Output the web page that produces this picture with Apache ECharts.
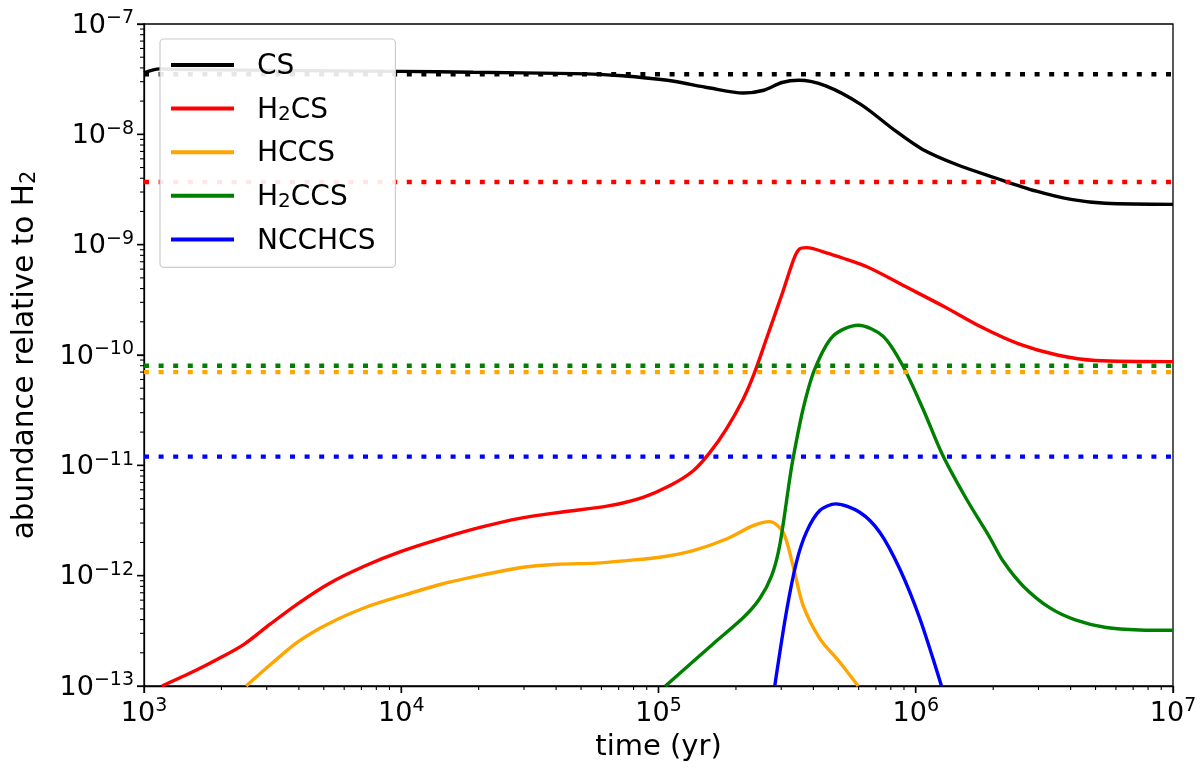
<!DOCTYPE html>
<html><head><meta charset="utf-8">
<script src="https://cdn.jsdelivr.net/npm/echarts@6/dist/echarts.min.js"></script>
<style>html,body{margin:0;padding:0;background:#fff}#c{width:1200px;height:772px}</style>
</head><body><div id="c"></div>
<script>
// ---------- data ----------
const seriesNames  = ['CS', 'H2CS', 'HCCS', 'H2CCS', 'NCCHCS'];
const seriesColors = ['#000000', '#ff0000', '#ffa500', '#008000', '#0000ff'];

const csTime  = [1000, 1148, 1259, 3162, 10000, 19050, 46770, 72440, 100000, 114800, 158500, 213800, 257000, 302000, 350800, 446700, 611000, 831800, 1064000, 1449000, 2030000, 2944000, 4010000, 5460000, 10000000];
const csAbund = [3.61e-8, 3.92e-8, 3.89e-8, 3.80e-8, 3.72e-8, 3.65e-8, 3.55e-8, 3.40e-8, 3.16e-8, 3.03e-8, 2.63e-8, 2.37e-8, 2.51e-8, 2.95e-8, 3.09e-8, 2.75e-8, 1.87e-8, 1.08e-8, 7.3e-9, 5.3e-9, 4.04e-9, 3.05e-9, 2.57e-9, 2.37e-9, 2.32e-9];

const h2csTime  = [1175, 1585, 1995, 2455, 3090, 3981, 5248, 7244, 10000, 14450, 20420, 28840, 41690, 64570, 87100, 110900, 136500, 158500, 183700, 213300, 234400, 263000, 302000, 335700, 353200, 375800, 457100, 645700, 912000, 1288000, 1799000, 2512000, 3548000, 5012000, 10000000];
const h2csAbund = [1.0e-13, 1.38e-13, 1.82e-13, 2.40e-13, 3.63e-13, 5.62e-13, 8.51e-13, 1.23e-12, 1.66e-12, 2.19e-12, 2.75e-12, 3.31e-12, 3.76e-12, 4.31e-12, 5.13e-12, 6.55e-12, 8.93e-12, 1.31e-11, 2.14e-11, 3.98e-11, 6.6e-11, 1.41e-10, 3.55e-10, 7.41e-10, 9.12e-10, 9.40e-10, 8.32e-10, 6.31e-10, 4.17e-10, 2.75e-10, 1.79e-10, 1.26e-10, 1.0e-10, 8.91e-11, 8.71e-11];

const hccsTime  = [2495, 3119, 3963, 5212, 7328, 10000, 14550, 20510, 28840, 40640, 57280, 75160, 101200, 136500, 183700, 233300, 270400, 304800, 333400, 364800, 423600, 505800, 597000];
const hccsAbund = [1.0e-13, 1.58e-13, 2.51e-13, 3.67e-13, 5.2e-13, 6.55e-13, 8.45e-13, 1.01e-12, 1.18e-12, 1.27e-12, 1.30e-12, 1.37e-12, 1.47e-12, 1.69e-12, 2.15e-12, 2.84e-12, 3.09e-12, 2.48e-12, 1.23e-12, 5.37e-13, 2.69e-13, 1.65e-13, 1.0e-13];

const h2ccsTime  = [106400, 163300, 214800, 247200, 275400, 295800, 323600, 333400, 364800, 404600, 476400, 597000, 746400, 891300, 1067000, 1276000, 1574000, 1936000, 2188000, 2630000, 3311000, 4169000, 5495000, 7413000, 10000000];
const h2ccsAbund = [1.0e-13, 2.42e-13, 4.22e-13, 6.17e-13, 1.0e-12, 1.87e-12, 7.52e-12, 1.15e-11, 3.24e-11, 7.41e-11, 1.48e-10, 1.86e-10, 1.48e-10, 7.94e-11, 3.24e-11, 1.22e-11, 4.95e-12, 2.24e-12, 1.35e-12, 7.94e-13, 5.13e-13, 3.98e-13, 3.39e-13, 3.22e-13, 3.2e-13];

const ncchcsTime  = [283100, 314100, 343600, 375800, 423600, 488700, 605300, 724400, 867000, 1038000, 1259000];
const ncchcsAbund = [1.0e-13, 4.68e-13, 1.32e-12, 2.48e-12, 3.89e-12, 4.47e-12, 3.76e-12, 2.48e-12, 1.15e-12, 4.07e-13, 1.0e-13];

// observed abundances (dotted horizontal lines), same order as seriesNames
const observedAbund = [3.5e-8, 3.7e-9, 7e-11, 8e-11, 1.2e-11];

// axes
const xMin = 1e3, xMax = 1e7, yMin = 1e-13, yMax = 1e-7;
const xMajorTicks = [1e3, 1e4, 1e5, 1e6, 1e7];
const yMajorTicks = [1e-13, 1e-12, 1e-11, 1e-10, 1e-9, 1e-8, 1e-7];
const minorMultipliers = [2, 3, 4, 5, 6, 7, 8, 9];

// ---------- chart ----------
const FONT = 'DejaVu Sans';
const curves = [
  [csTime, csAbund], [h2csTime, h2csAbund], [hccsTime, hccsAbund],
  [h2ccsTime, h2ccsAbund], [ncchcsTime, ncchcsAbund]
];
const minorOf = majors => majors.slice(0, -1).flatMap(m => minorMultipliers.map(k => +(m * k).toPrecision(3)));
const xMinorTicks = minorOf(xMajorTicks);
const yMinorTicks = minorOf(yMajorTicks);

function pow10Label(v) {
  const e = Math.round(Math.log10(v));
  const s = e < 0 ? '\u2212' + (-e) : '' + e;
  return '{b|10}{p|' + s + '}';
}
const tickRich = {
  b: { fontSize: 27, fontFamily: FONT, color: '#000', lineHeight: 30, verticalAlign: 'bottom' },
  p: { fontSize: 19, fontFamily: FONT, color: '#000', lineHeight: 14, verticalAlign: 'top' }
};
const subRich = (big, small) => ({
  g: { width: 18 },
  n: { fontSize: big, fontFamily: FONT, color: '#000', lineHeight: 32, verticalAlign: 'bottom' },
  s: { fontSize: small, fontFamily: FONT, color: '#000', lineHeight: 13, verticalAlign: 'bottom' }
});
const withSub = name => name.startsWith('H2') ? '{n|H}{s|2}{n|' + name.slice(2) + '}' : '{n|' + name + '}';

const series = [];
seriesNames.forEach((name, i) => {
  const [t, a] = curves[i];
  series.push({
    name: name, type: 'line', xAxisIndex: 0, yAxisIndex: 0,
    data: t.map((x, j) => [x, a[j]]),
    showSymbol: false, symbol: 'none', smooth: 0.3,
    lineStyle: { color: seriesColors[i], width: 3.4 },
    itemStyle: { color: seriesColors[i] },
    z: 3
  });
});
seriesNames.forEach((name, i) => {
  series.push({
    name: name + ' observed', type: 'line', xAxisIndex: 0, yAxisIndex: 0,
    data: [[xMin, observedAbund[i]], [xMax, observedAbund[i]]],
    showSymbol: false, symbol: 'none',
    lineStyle: { color: seriesColors[i], width: 4.4, type: [5, 9.6], cap: 'butt' },
    z: 4
  });
});

const option = {
  animation: false,
  backgroundColor: '#ffffff',
  grid: { left: 144, right: 27, top: 24, bottom: 86, show: true, borderColor: '#000', borderWidth: 1.3, backgroundColor: 'transparent' },
  xAxis: {
    type: 'log', logBase: 10, min: xMin, max: xMax, position: 'bottom',
    splitLine: { show: false },
    name: 'time (yr)', nameLocation: 'middle', nameGap: 47,
    nameTextStyle: { fontSize: 29, fontFamily: FONT, color: '#000' },
    axisLine: { show: true, onZero: false, lineStyle: { color: '#000', width: 1.3 } },
    axisTick: { show: true, inside: false, length: 7, lineStyle: { color: '#000', width: 1.3 } },
    axisLabel: { show: true, margin: 11, formatter: pow10Label, rich: tickRich, color: '#000' },
    minorTick: { show: false }
  },
  yAxis: {
    type: 'log', logBase: 10, min: yMin, max: yMax, position: 'left',
    splitLine: { show: false },
    name: '{n|abundance relative to H}{s|2}', nameLocation: 'middle', nameRotate: 90, nameGap: 104,
    nameTextStyle: { rich: subRich(29.5, 21) },
    axisLine: { show: true, onZero: false, lineStyle: { color: '#000', width: 1.3 } },
    axisTick: { show: true, inside: false, length: 7, lineStyle: { color: '#000', width: 1.3 } },
    axisLabel: { show: true, margin: 10, formatter: pow10Label, rich: tickRich, color: '#000' },
    minorTick: { show: false }
  },
  legend: {
    data: seriesNames,
    z: 20,
    orient: 'vertical', left: 160, top: 39,
    padding: [14, 20, 12, 11],
    itemGap: 15.6,
    itemWidth: 63, itemHeight: 4, icon: 'rect',
    backgroundColor: 'rgba(255,255,255,0.9)',
    borderColor: '#cccccc', borderWidth: 1.2, borderRadius: 4,
    formatter: name => '{g|}' + withSub(name),
    textStyle: { rich: subRich(28, 20) },
    selectedMode: false
  },
  series: series
};
const chart = echarts.init(document.getElementById('c'), null, { renderer: 'canvas' });
chart.setOption(option);

// major and minor log ticks, placed through the axis scales
const tickEls = [];
const yBottom = chart.convertToPixel({ yAxisIndex: 0 }, yMin);
const xLeft = chart.convertToPixel({ xAxisIndex: 0 }, xMin);
function addXTick(v, len, w) {
  const x = chart.convertToPixel({ xAxisIndex: 0 }, v);
  tickEls.push({ type: 'rect', silent: true, z: 100, shape: { x: x - w / 2, y: yBottom, width: w, height: len }, style: { fill: '#000' } });
}
function addYTick(v, len, w) {
  const y = chart.convertToPixel({ yAxisIndex: 0 }, v);
  tickEls.push({ type: 'rect', silent: true, z: 100, shape: { x: xLeft - len, y: y - w / 2, width: len, height: w }, style: { fill: '#000' } });
}
xMajorTicks.forEach(v => addXTick(v, 7, 1.4));
yMajorTicks.forEach(v => addYTick(v, 7, 1.4));
xMinorTicks.forEach(v => addXTick(v, 4, 1.1));
yMinorTicks.forEach(v => addYTick(v, 4, 1.1));
chart.setOption({ graphic: { elements: tickEls } });
</script>
</body></html>
